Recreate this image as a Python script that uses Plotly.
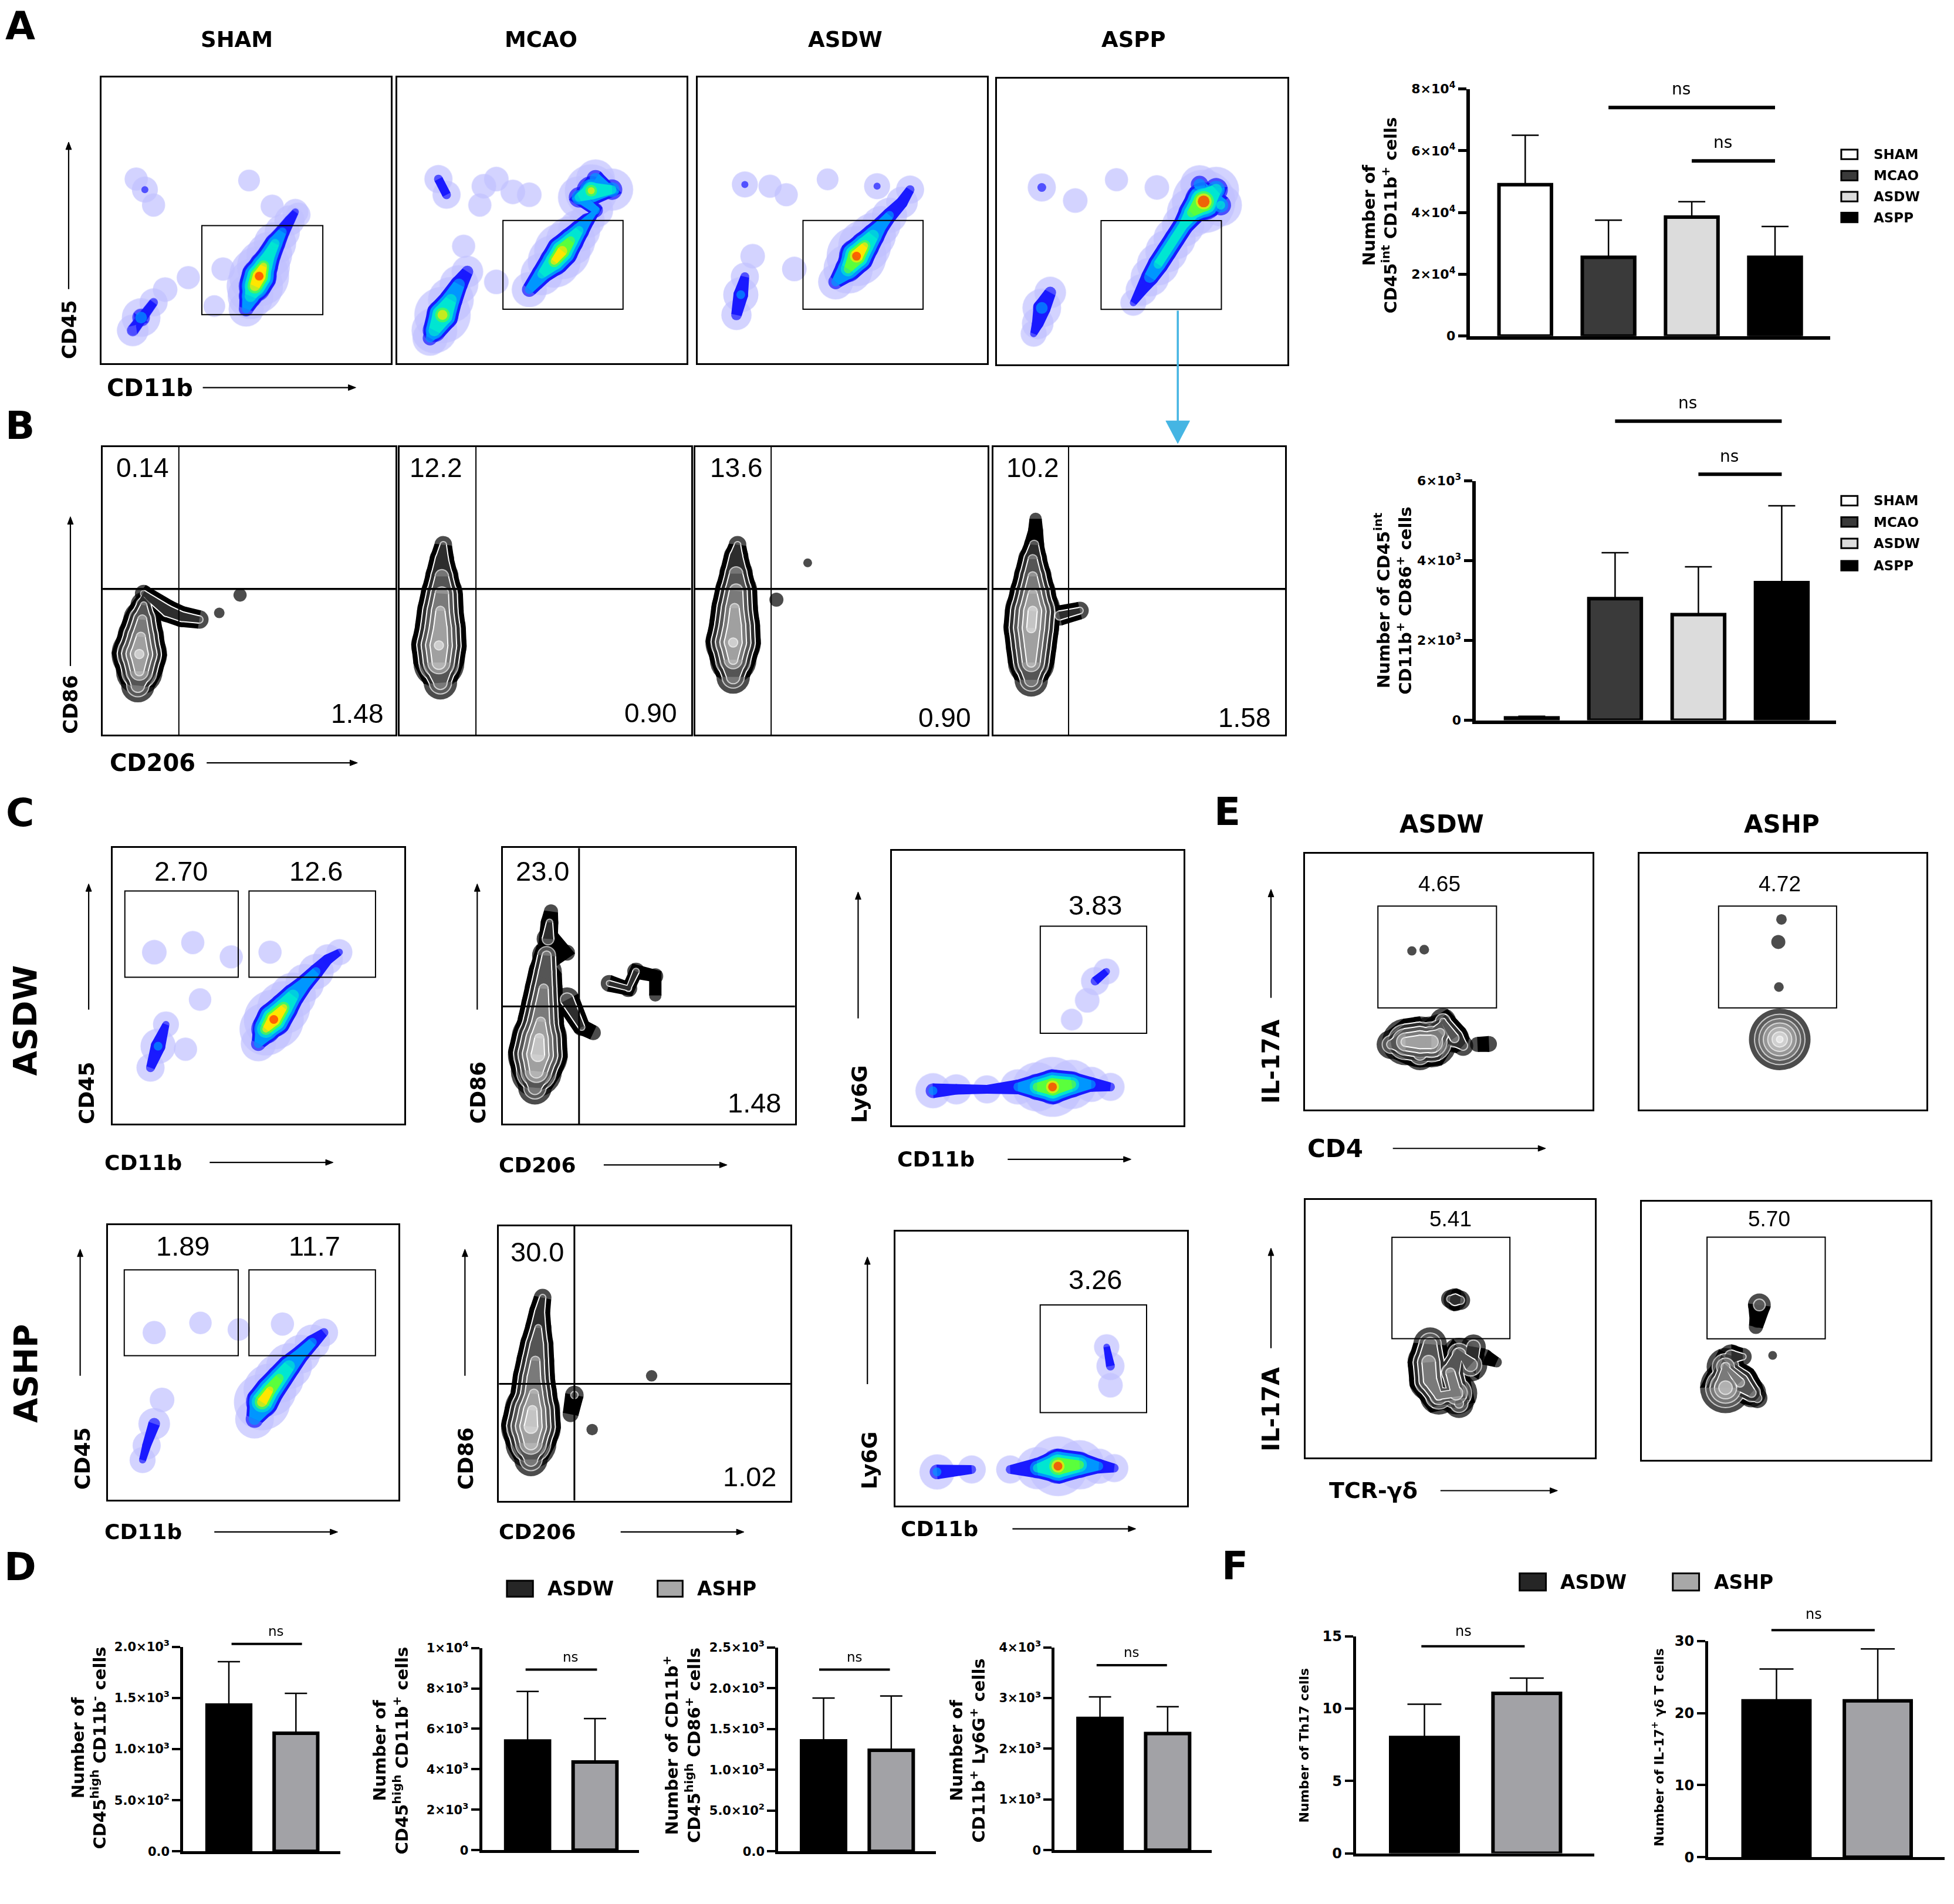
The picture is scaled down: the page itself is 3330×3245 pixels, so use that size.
import math
import plotly.graph_objects as go

FIG_W, FIG_H = 3330, 3245
REF_W, REF_H = 1560.0, 1520.0          # layout was measured on a 1560 x 1520 grid
K = FIG_W / REF_W

HEAVY = 'DejaVu Sans'
PLAIN = 'Liberation Sans'

# ---------------- bar chart data ----------------
ab_groups = ['SHAM', 'MCAO', 'ASDW', 'ASPP']
ab_colors = ['#ffffff', '#3a3a3a', '#dcdcdc', '#000000']
a_mean = [49000, 25500, 38500, 25500]
a_sem = [16000, 12000, 5000, 10000]
b_mean = [60, 3050, 2650, 3450]
b_sem = [40, 1150, 1200, 1930]

ds_groups = ['ASDW', 'ASHP']
ds_colors = ['#000000', '#a2a2a6']
d1_mean = [1430, 1155]
d1_sem = [425, 390]
d2_mean = [5400, 4360]
d2_sem = [2450, 2150]
d3_mean = [1355, 1240]
d3_sem = [525, 665]
d4_mean = [2600, 2300]
d4_sem = [425, 530]
f1_mean = [8.0, 11.05]
f1_sem = [2.3, 1.05]
f2_mean = [21.7, 21.7]
f2_sem = [4.4, 7.2]

a_ticks = [0, 20000, 40000, 60000, 80000]
a_ticktext = ['0', '2×10<sup>4</sup>', '4×10<sup>4</sup>', '6×10<sup>4</sup>', '8×10<sup>4</sup>']
b_ticks = [0, 2000, 4000, 6000]
b_ticktext = ['0', '2×10<sup>3</sup>', '4×10<sup>3</sup>', '6×10<sup>3</sup>']
d1_ticks = [0, 500, 1000, 1500, 2000]
d1_ticktext = ['0.0', '5.0×10<sup>2</sup>', '1.0×10<sup>3</sup>', '1.5×10<sup>3</sup>', '2.0×10<sup>3</sup>']
d2_ticks = [0, 2000, 4000, 6000, 8000, 10000]
d2_ticktext = ['0', '2×10<sup>3</sup>', '4×10<sup>3</sup>', '6×10<sup>3</sup>', '8×10<sup>3</sup>', '1×10<sup>4</sup>']
d3_ticks = [0, 500, 1000, 1500, 2000, 2500]
d3_ticktext = ['0.0', '5.0×10<sup>2</sup>', '1.0×10<sup>3</sup>', '1.5×10<sup>3</sup>', '2.0×10<sup>3</sup>', '2.5×10<sup>3</sup>']
d4_ticks = [0, 1000, 2000, 3000, 4000]
d4_ticktext = ['0', '1×10<sup>3</sup>', '2×10<sup>3</sup>', '3×10<sup>3</sup>', '4×10<sup>3</sup>']
f1_ticks = [0, 5, 10, 15]
f2_ticks = [0, 10, 20, 30]

# significance brackets: start, end (category index), height (data units)
a_ns = [(1, 3, 74000), (2, 3, 56700)]
b_ns = [(1, 3, 7500), (2, 3, 6170)]
d1_ns = [(0.04, 1.09, 2028)]
d2_ns = [(-0.03, 1.03, 8930)]
d3_ns = [(-0.065, 0.98, 2228)]
d4_ns = [(-0.05, 0.99, 3650)]
f1_ns = [(-0.03, 0.98, 14.3)]
f2_ns = [(-0.05, 0.97, 31.5)]

# ---------------- flow cytometry data (fractions of each plot, density level) ----------------
# A: CD45 vs CD11b pseudo-colour plots
a_sham_x = [0.50, 0.515, 0.53, 0.545, 0.56, 0.58, 0.60, 0.625, 0.65, 0.67, 0.137, 0.108, 0.18, 0.22, 0.30,
            0.15, 0.12, 0.18, 0.51, 0.59, 0.68, 0.42, 0.39]
a_sham_y = [0.19, 0.235, 0.27, 0.305, 0.34, 0.38, 0.42, 0.46, 0.50, 0.53, 0.16, 0.115, 0.213, 0.258, 0.30,
            0.608, 0.645, 0.554, 0.64, 0.55, 0.52, 0.33, 0.20]
a_sham_d = [2.5, 4, 5.5, 6, 5, 4, 3.5, 2.5, 1.8, 1.2, 3, 2, 1.5, 1, 0.8,
            1.2, 0.8, 0.8, 0.6, 0.8, 1, 0.8, 0.6]

a_mcao_x = [0.114, 0.129, 0.157, 0.186, 0.214, 0.243, 0.457, 0.50, 0.543, 0.571, 0.60, 0.629, 0.657, 0.686,
            0.629, 0.671, 0.743, 0.686, 0.143, 0.171, 0.343, 0.457, 0.286, 0.343, 0.23, 0.30, 0.40]
a_mcao_y = [0.088, 0.115, 0.169, 0.222, 0.276, 0.321, 0.258, 0.312, 0.357, 0.393, 0.429, 0.465, 0.50, 0.536,
            0.581, 0.604, 0.608, 0.646, 0.645, 0.59, 0.645, 0.59, 0.554, 0.285, 0.41, 0.62, 0.60]
a_mcao_d = [2.5, 4, 5.5, 4, 3, 2, 2.5, 3.5, 5, 5.5, 4.5, 3.5, 2.5, 2.5,
            3.5, 5, 3.5, 3, 1.5, 1.5, 1, 1, 0.8, 1, 0.8, 1, 1]

a_asdw_x = [0.477, 0.52, 0.549, 0.577, 0.606, 0.634, 0.663, 0.706, 0.734, 0.134, 0.149, 0.163, 0.19,
            0.163, 0.306, 0.449, 0.334, 0.62, 0.25]
a_asdw_y = [0.285, 0.33, 0.375, 0.411, 0.447, 0.483, 0.518, 0.563, 0.608, 0.169, 0.24, 0.303, 0.375,
            0.626, 0.59, 0.644, 0.33, 0.62, 0.62]
a_asdw_d = [2.5, 4.5, 6, 5, 4, 3, 2.5, 2, 1.5, 1.8, 2.5, 1.5, 1,
            1.2, 0.8, 0.6, 1, 1.2, 0.8]

a_aspp_x = [0.469, 0.497, 0.526, 0.554, 0.583, 0.611, 0.64, 0.669, 0.711, 0.754, 0.697, 0.77,
            0.126, 0.14, 0.154, 0.183, 0.154, 0.269, 0.411, 0.55]
a_aspp_y = [0.216, 0.261, 0.306, 0.351, 0.396, 0.441, 0.486, 0.531, 0.571, 0.612, 0.63, 0.558,
            0.108, 0.144, 0.198, 0.252, 0.62, 0.574, 0.647, 0.62]
a_aspp_d = [1.2, 2, 3, 3.5, 3.5, 3.5, 3.5, 4.5, 6.5, 4, 3, 3.5,
            1.2, 2, 3, 2, 1.5, 1, 0.8, 1]

# B: CD86 vs CD206 zebra plots
b1_x = [0.398, 0.12, 0.125, 0.125, 0.13, 0.135, 0.14, 0.14, 0.22, 0.27, 0.33, 0.469]
b1_y = [0.423, 0.17, 0.22, 0.28, 0.34, 0.40, 0.45, 0.49, 0.43, 0.41, 0.40, 0.485]
b1_d = [0.4, 3, 4.5, 5.5, 4.5, 3.5, 2.2, 1.2, 1.8, 1.6, 1.3, 0.7]
b2_x = [0.14, 0.135, 0.135, 0.14, 0.14, 0.145, 0.145, 0.145, 0.15]
b2_y = [0.18, 0.25, 0.31, 0.37, 0.43, 0.49, 0.55, 0.61, 0.66]
b2_d = [3, 5, 5.5, 5, 4.5, 4, 3, 2, 1.2]
b3_x = [0.13, 0.13, 0.13, 0.135, 0.135, 0.14, 0.14, 0.14, 0.145, 0.278, 0.385]
b3_y = [0.2, 0.26, 0.32, 0.38, 0.44, 0.5, 0.56, 0.62, 0.66, 0.469, 0.597]
b3_d = [3, 4.5, 5.5, 5, 4.5, 4, 3, 2, 1.2, 0.8, 0.2]
b4_x = [0.13, 0.13, 0.13, 0.13, 0.135, 0.135, 0.135, 0.135, 0.14, 0.145, 0.145, 0.227, 0.297]
b4_y = [0.19, 0.25, 0.31, 0.37, 0.43, 0.49, 0.55, 0.61, 0.66, 0.71, 0.75, 0.414, 0.431]
b4_d = [3, 4.5, 5, 5.5, 5.5, 4.5, 3.5, 2.5, 1.5, 0.9, 0.6, 1.5, 1.2]
b_upper = ['0.14', '12.2', '13.6', '10.2']
b_lower = ['1.48', '0.90', '0.90', '1.58']

# C: ASDW row (c1 CD45/CD11b, c2 CD86/CD206, c3 Ly6G/CD11b) and ASHP row (c4, c5, c6)
c1_x = [0.50, 0.526, 0.553, 0.587, 0.619, 0.659, 0.698, 0.738, 0.778, 0.13, 0.156, 0.183, 0.25,
        0.143, 0.275, 0.407, 0.54, 0.30]
c1_y = [0.29, 0.343, 0.378, 0.421, 0.465, 0.509, 0.552, 0.596, 0.622, 0.203, 0.281, 0.36, 0.27,
        0.622, 0.657, 0.605, 0.622, 0.45]
c1_d = [2.5, 5, 6, 5, 4, 3, 2.5, 1.8, 1.2, 1.5, 2.5, 1.2, 0.8, 1, 0.8, 0.8, 0.8, 0.7]
c2_x = [0.11, 0.115, 0.12, 0.125, 0.13, 0.135, 0.14, 0.145, 0.15, 0.22, 0.155, 0.16, 0.165,
        0.22, 0.27, 0.31, 0.364, 0.43, 0.456, 0.522, 0.522]
c2_y = [0.13, 0.19, 0.25, 0.31, 0.37, 0.43, 0.49, 0.55, 0.61, 0.62, 0.67, 0.73, 0.77,
        0.45, 0.35, 0.33, 0.509, 0.491, 0.552, 0.535, 0.465]
c2_d = [3, 5, 6, 5.5, 4.5, 4, 3.5, 3, 2.5, 1, 1.8, 1.2, 0.8, 2, 1.2, 0.9, 1.1, 1.2, 1.2, 1.0, 0.6]
c3_x = [0.14, 0.22, 0.325, 0.431, 0.497, 0.55, 0.616, 0.683, 0.749, 0.616, 0.669, 0.696, 0.735]
c3_y = [0.126, 0.131, 0.131, 0.14, 0.14, 0.14, 0.149, 0.149, 0.14, 0.385, 0.455, 0.525, 0.56]
c3_d = [2.5, 1.8, 1.5, 2.5, 4.5, 6, 4.5, 2.5, 1.5, 0.6, 1, 1.5, 1.2]
c4_x = [0.504, 0.53, 0.557, 0.589, 0.623, 0.663, 0.703, 0.743, 0.119, 0.133, 0.159, 0.186,
        0.159, 0.318, 0.45, 0.60]
c4_y = [0.294, 0.356, 0.40, 0.443, 0.487, 0.531, 0.574, 0.609, 0.145, 0.198, 0.277, 0.364,
        0.609, 0.644, 0.62, 0.64]
c4_d = [3, 5.5, 5, 4.5, 4, 3, 2.5, 1.5, 1.2, 1.5, 2, 1, 0.8, 0.7, 0.7, 0.8]
c5_x = [0.11, 0.11, 0.11, 0.115, 0.12, 0.12, 0.125, 0.13, 0.135, 0.14, 0.15, 0.259, 0.246, 0.524, 0.32]
c5_y = [0.15, 0.21, 0.27, 0.33, 0.39, 0.45, 0.51, 0.57, 0.63, 0.69, 0.74, 0.385, 0.315, 0.455, 0.259]
c5_d = [3, 5, 6, 5.5, 4.5, 4, 3.5, 3, 2.2, 1.6, 1.2, 1.3, 1.0, 0.5, 0.5]
c6_x = [0.143, 0.262, 0.394, 0.487, 0.558, 0.632, 0.698, 0.751, 0.738, 0.738, 0.725]
c6_y = [0.123, 0.132, 0.132, 0.137, 0.144, 0.149, 0.144, 0.137, 0.439, 0.509, 0.579]
c6_d = [2.5, 1.5, 1.5, 3.5, 6, 4.5, 2.5, 1.5, 1.0, 1.5, 1.1]

# E: IL-17A vs CD4 (e1, e2) and IL-17A vs TCR-gd (e3, e4)
e1_x = [0.372, 0.30, 0.35, 0.40, 0.44, 0.47, 0.48, 0.52, 0.55, 0.40, 0.60, 0.64, 0.415]
e1_y = [0.62, 0.255, 0.265, 0.265, 0.265, 0.30, 0.345, 0.28, 0.25, 0.22, 0.255, 0.257, 0.625]
e1_d = [0.25, 2.5, 4.5, 5, 5, 3.5, 2.2, 2.5, 1.5, 3, 0.9, 1.0, 0.3]
e2_x = [0.484, 0.489, 0.495, 0.486]
e2_y = [0.655, 0.275, 0.743, 0.479]
e2_d = [0.8, 6.2, 0.4, 0.3]
e3_x = [0.43, 0.425, 0.43, 0.46, 0.52, 0.50, 0.53, 0.57, 0.58, 0.53, 0.62, 0.66, 0.50, 0.516, 0.535]
e3_y = [0.44, 0.37, 0.30, 0.24, 0.25, 0.33, 0.40, 0.36, 0.43, 0.21, 0.39, 0.37, 0.615, 0.612, 0.61]
e3_d = [3, 4, 4, 3.5, 4, 3.5, 3, 3, 2, 2.5, 1, 0.4, 1.3, 1.8, 1.4]
e4_x = [0.453, 0.29, 0.29, 0.34, 0.38, 0.40, 0.31, 0.35, 0.407, 0.40, 0.395]
e4_y = [0.405, 0.28, 0.36, 0.30, 0.26, 0.24, 0.40, 0.40, 0.60, 0.542, 0.515]
e4_d = [0.2, 5, 3.5, 3.5, 2.5, 1.5, 2, 1.2, 1.8, 1.0, 0.8]
e_gate_labels = ['4.65', '4.72', '5.41', '5.70']

# ---------------- helpers ----------------
traces = []
shapes = []
annotations = []
axes_layout = {}
n_axes = [0]


def px(x):
    return x / REF_W


def py(y):
    return 1 - y / REF_H


def new_axes(x0, x1, y0, y1, xr, yr):
    n_axes[0] += 1
    s = '' if n_axes[0] == 1 else str(n_axes[0])
    xd = [px(x0), px(x1)]
    yd = [py(y1), py(y0)]
    axes_layout['xaxis' + s] = dict(domain=xd, range=xr, anchor='y' + s, showgrid=False,
                                    zeroline=False, fixedrange=True, automargin=False)
    axes_layout['yaxis' + s] = dict(domain=yd, range=yr, anchor='x' + s, showgrid=False,
                                    zeroline=False, fixedrange=True, automargin=False)
    return s, xd, yd


def flow_axes(x0, x1, y0, y1):
    s, xd, yd = new_axes(x0, x1, y0, y1, [0, 1], [0, 1])
    for key in ('xaxis' + s, 'yaxis' + s):
        axes_layout[key].update(showline=True, mirror=True, linecolor='black', linewidth=2.5,
                                showticklabels=False, ticks='')
    # axis handles plus the plot size in screen pixels
    return ('x' + s, 'y' + s, (x1 - x0) * K, (y1 - y0) * K)


# pseudo-colour levels: threshold on density, colour
JET_T = [1.0, 2.0, 3.0, 4.0, 4.8, 5.5]
JET_C = ['#1a1aff', '#0096ff', '#00e6d2', '#5aff3c', '#ffe600', '#ff2a00']
GREYS = ['#000000', '#2e2e2e', '#555555', '#7a7a7a', '#a0a0a0', '#c4c4c4', '#e0e0e0']
LINK_PX = 60


def runs_above(ax, xs, ys, ds, t):
    # consecutive readings above a level that lie close together form one band
    bw, bh = ax[2], ax[3]
    runs, cur = [], []
    for i, d in enumerate(ds):
        if d > t:
            if cur and math.hypot((xs[i] - xs[cur[-1]]) * bw, (ys[i] - ys[cur[-1]]) * bh) <= LINK_PX:
                cur.append(i)
            else:
                if cur:
                    runs.append(cur)
                cur = [i]
        elif cur:
            runs.append(cur)
            cur = []
    if cur:
        runs.append(cur)
    return runs


def band_outline(ax, xs, ys, radius, run):
    bw, bh = ax[2], ax[3]
    pts = [(xs[i] * bw, ys[i] * bh) for i in run]
    left, right = [], []
    n = len(pts)
    for j in range(n):
        a, b = pts[max(j - 1, 0)], pts[min(j + 1, n - 1)]
        tx, ty = b[0] - a[0], b[1] - a[1]
        ln = math.hypot(tx, ty) or 1.0
        nx, ny = -ty / ln, tx / ln
        r = radius[run[j]]
        left.append((pts[j][0] + nx * r, pts[j][1] + ny * r))
        right.append((pts[j][0] - nx * r, pts[j][1] - ny * r))
    poly = left + right[::-1] + [left[0]]
    return [p[0] / bw for p in poly], [p[1] / bh for p in poly]


def level(ax, xs, ys, ds, t, size_of, color, opacity=1.0, banded=True):
    idx = [i for i, d in enumerate(ds) if d > t]
    if not idx:
        return False
    sizes = {i: size_of(ds[i]) for i in idx}
    if banded:
        bx, by = [], []
        for run in runs_above(ax, xs, ys, ds, t):
            if len(run) < 2:
                continue
            ox, oy = band_outline(ax, xs, ys, {i: sizes[i] / 2 for i in run}, run)
            bx += ox + [None]
            by += oy + [None]
        if bx:
            traces.append(go.Scatter(x=bx, y=by, xaxis=ax[0], yaxis=ax[1], mode='lines',
                                     fill='toself', fillcolor=color, line=dict(width=0, color=color),
                                     hoverinfo='skip', showlegend=False, opacity=opacity))
    traces.append(go.Scatter(
        x=[xs[i] for i in idx], y=[ys[i] for i in idx], xaxis=ax[0], yaxis=ax[1],
        mode='markers', hoverinfo='skip', showlegend=False, opacity=opacity,
        marker=dict(size=[sizes[i] for i in idx], color=color, line=dict(width=0))))
    return True


def pseudo_color(ax, xs, ys, ds):
    level(ax, xs, ys, ds, 0, lambda d: 12 * d + 30, '#2f2fff', 0.3, banded=False)
    for t, col in zip(JET_T, JET_C):
        if not level(ax, xs, ys, ds, t, lambda d, t=t: 10 * (d - t) + 10, col):
            break


def zebra(ax, xs, ys, ds, step=15):
    for k, col in enumerate(GREYS):
        pad = 12 if k == 0 else 6
        if k > 0:
            if not level(ax, xs, ys, ds, k, lambda d, k=k, pad=pad: step * (d - k) + pad + 4, '#ffffff'):
                break
        if not level(ax, xs, ys, ds, k, lambda d, k=k, pad=pad: step * (d - k) + pad, col):
            break


def gate(ax, x0, x1, y0, y1, width=2):
    shapes.append(dict(type='rect', xref=ax[0], yref=ax[1], x0=x0, x1=x1, y0=y0, y1=y1,
                       line=dict(color='black', width=width)))


def quad(ax, vx, hy, wv=2, wh=3.5):
    shapes.append(dict(type='line', xref=ax[0], yref=ax[1], x0=vx, x1=vx, y0=0, y1=1,
                       line=dict(color='black', width=wv)))
    shapes.append(dict(type='line', xref=ax[0], yref=ax[1], x0=0, x1=1, y0=hy, y1=hy,
                       line=dict(color='black', width=wh)))


def flow_text(ax, x, y, s, size, xanchor='center'):
    annotations.append(dict(xref=ax[0], yref=ax[1], x=x, y=y, text=s, showarrow=False,
                            xanchor=xanchor, yanchor='middle',
                            font=dict(family=PLAIN, size=size, color='black')))


def label(x, y, s, size, family=HEAVY, bold=True, angle=0, xanchor='center'):
    annotations.append(dict(xref='paper', yref='paper', x=px(x), y=py(y), text=s,
                            showarrow=False, textangle=angle, xanchor=xanchor, yanchor='middle',
                            font=dict(family=family, size=size, color='black',
                                      weight='bold' if bold else 'normal')))


def arrow(x0, y0, x1, y1, color='black', width=2.2, head_len=6.0, head_w=4.6):
    # straight arrow drawn as a line plus a filled triangular head (reference units)
    length = math.hypot(x1 - x0, y1 - y0)
    ux, uy = (x1 - x0) / length, (y1 - y0) / length
    bx, by = x1 - ux * head_len, y1 - uy * head_len
    shapes.append(dict(type='line', xref='paper', yref='paper', x0=px(x0), y0=py(y0),
                       x1=px(bx), y1=py(by), line=dict(color=color, width=width)))
    c1 = (bx - uy * head_w / 2, by + ux * head_w / 2)
    c2 = (bx + uy * head_w / 2, by - ux * head_w / 2)
    path = 'M {} {} L {} {} L {} {} Z'.format(px(x1), py(y1), px(c1[0]), py(c1[1]),
                                              px(c2[0]), py(c2[1]))
    shapes.append(dict(type='path', xref='paper', yref='paper', path=path, fillcolor=color,
                       line=dict(color=color, width=1)))


def bar_panel(box, xr, yr, means, sems, colors, bar_w, cap, tickv, tickt, tick_size, axis_w=6,
              outline_w=6):
    s, xd, yd = new_axes(box[0], box[1], box[2], box[3], xr, yr)
    axes_layout['xaxis' + s].update(showline=True, linecolor='black', linewidth=axis_w,
                                    showticklabels=False, ticks='')
    axes_layout['yaxis' + s].update(showline=True, linecolor='black', linewidth=axis_w,
                                    ticks='outside', ticklen=14, tickwidth=axis_w - 1,
                                    tickcolor='black', tickvals=tickv, ticktext=tickt,
                                    tickfont=dict(family=HEAVY, size=tick_size, color='black',
                                                  weight='bold'))
    traces.append(go.Bar(
        x=list(range(len(means))), y=means, width=bar_w, xaxis='x' + s, yaxis='y' + s,
        marker=dict(color=colors, line=dict(color='black', width=outline_w)),
        error_y=dict(type='data', array=sems, arrayminus=[0] * len(sems), symmetric=False,
                     color='black', thickness=2.5, width=cap),
        hoverinfo='skip', showlegend=False))
    return xd, yd, xr, yr


def ns_brackets(panel, brackets, lift, size, lw):
    xd, yd, xr, yr = panel

    def fx(v):
        return xd[0] + (v - xr[0]) / (xr[1] - xr[0]) * (xd[1] - xd[0])

    def fy(v):
        return yd[0] + (v - yr[0]) / (yr[1] - yr[0]) * (yd[1] - yd[0])

    for x0, x1, yv in brackets:
        shapes.append(dict(type='line', xref='paper', yref='paper', x0=fx(x0), x1=fx(x1),
                           y0=fy(yv), y1=fy(yv), line=dict(color='black', width=lw)))
        annotations.append(dict(xref='paper', yref='paper', x=fx((x0 + x1) / 2), y=fy(yv),
                                yshift=lift, text='ns', showarrow=False, yanchor='middle',
                                font=dict(family=HEAVY, size=size, color='black')))


def swatch(x0, x1, yc, half, color):
    shapes.append(dict(type='rect', xref='paper', yref='paper', x0=px(x0), x1=px(x1),
                       y0=py(yc + half), y1=py(yc - half), fillcolor=color,
                       line=dict(color='black', width=3)))


# ---------------- panel letters ----------------
for ch, (lx, ly) in zip('ABCDEF', [(16, 21), (16, 340), (16, 649), (16, 1251), (980, 648), (986, 1250)]):
    label(lx, ly, ch, 66)

# ---------------- A: gating plots ----------------
a_boxes = [(81, 312, 62, 290), (317, 548, 62, 290), (557, 788, 62, 290), (796, 1028, 63, 291)]
a_data = [(a_sham_x, a_sham_y, a_sham_d), (a_mcao_x, a_mcao_y, a_mcao_d),
          (a_asdw_x, a_asdw_y, a_asdw_d), (a_aspp_x, a_aspp_y, a_aspp_d)]
a_gates = [(0.347, 0.765, 0.17, 0.482), (0.366, 0.781, 0.189, 0.50),
           (0.364, 0.779, 0.189, 0.50), (0.358, 0.772, 0.193, 0.504)]
for name, box, dat, g, tx in zip(ab_groups, a_boxes, a_data, a_gates, [189, 432, 675, 905]):
    ax = flow_axes(*box)
    pseudo_color(ax, *dat)
    gate(ax, *g)
    label(tx, 31.5, name, 37)
label(55.5, 263, 'CD45', 34, angle=-90)
arrow(54.8, 230.8, 54.8, 113.4)
label(119.6, 309.4, 'CD11b', 40)
arrow(161.9, 309.4, 284.1, 309.4)
arrow(940.3, 248, 940.3, 354, color='#45b5e3', width=3.5, head_len=18, head_w=19)

# ---------------- B: CD86 / CD206 ----------------
b_boxes = [(82, 315.8, 356.8, 586.4), (319, 551.7, 356.8, 586.4),
           (555, 788.3, 356.8, 586.4), (793, 1026, 356.8, 586.4)]
b_data = [(b1_x, b1_y, b1_d), (b2_x, b2_y, b2_d), (b3_x, b3_y, b3_d), (b4_x, b4_y, b4_d)]
b_vx = [0.26, 0.262, 0.26, 0.258]
b_ux = [0.136, 0.125, 0.142, 0.136]
b_ly = [0.073, 0.075, 0.059, 0.059]
b_lx = [0.963, 0.957, 0.949, 0.955]
for i, box in enumerate(b_boxes):
    ax = flow_axes(*box)
    zebra(ax, *b_data[i])
    quad(ax, b_vx[i], 0.506)
    flow_text(ax, b_ux[i], 0.929, b_upper[i], 46)
    flow_text(ax, b_lx[i], b_ly[i], b_lower[i], 46, xanchor='right')
label(56.2, 562, 'CD86', 34, angle=-90)
arrow(56.2, 531.7, 56.2, 412.5)
label(122, 609, 'CD206', 40)
arrow(165, 609, 285.4, 609)

# ---------------- C ----------------
label(20.3, 814.6, 'ASDW', 55, angle=-90)
label(20.3, 1096.4, 'ASHP', 55, angle=-90)

ax = flow_axes(89.9, 322.6, 677, 897)
pseudo_color(ax, c1_x, c1_y, c1_d)
gate(ax, 0.042, 0.431, 0.531, 0.844)
gate(ax, 0.468, 0.902, 0.531, 0.844)
flow_text(ax, 0.235, 0.916, '2.70', 47)
flow_text(ax, 0.698, 0.916, '12.6', 47)

ax = flow_axes(401.4, 634.7, 677, 897)
zebra(ax, c2_x, c2_y, c2_d)
quad(ax, 0.261, 0.425, 3, 3)
flow_text(ax, 0.135, 0.916, '23.0', 47)
flow_text(ax, 0.86, 0.075, '1.48', 47)

ax = flow_axes(712.3, 945, 679, 898.4)
pseudo_color(ax, c3_x, c3_y, c3_d)
gate(ax, 0.508, 0.873, 0.335, 0.725)
flow_text(ax, 0.696, 0.802, '3.83', 47)

ax = flow_axes(86.2, 318.3, 978, 1197.4)
pseudo_color(ax, c4_x, c4_y, c4_d)
gate(ax, 0.056, 0.448, 0.525, 0.837)
gate(ax, 0.485, 0.92, 0.525, 0.837)
flow_text(ax, 0.257, 0.925, '1.89', 47)
flow_text(ax, 0.711, 0.925, '11.7', 47)

ax = flow_axes(398.3, 631, 979, 1198)
zebra(ax, c5_x, c5_y, c5_d)
quad(ax, 0.259, 0.426, 3, 3)
flow_text(ax, 0.132, 0.907, '30.0', 47)
flow_text(ax, 0.86, 0.088, '1.02', 47)

ax = flow_axes(714.8, 947.5, 983, 1202)
pseudo_color(ax, c6_x, c6_y, c6_d)
gate(ax, 0.497, 0.862, 0.339, 0.732)
flow_text(ax, 0.685, 0.825, '3.26', 47)

for lx, ly, s in [(69, 872.5, 'CD45'), (381.6, 872.5, 'CD86'), (686.4, 873.5, 'Ly6G'),
                  (65.9, 1164.6, 'CD45'), (371.8, 1164.6, 'CD86'), (693.8, 1165.5, 'Ly6G')]:
    label(lx, ly, s, 36, angle=-90)
for lx, ly, s in [(114.4, 928, 'CD11b'), (429, 930, 'CD206'), (747, 925.5, 'CD11b'),
                  (114.4, 1223, 'CD11b'), (429, 1223, 'CD206'), (750, 1220.5, 'CD11b')]:
    label(lx, ly, s, 36)
arrow(70.8, 806, 70.8, 705.6)
arrow(381, 806, 381, 705.6)
arrow(685.1, 813, 685.1, 712)
arrow(64, 1098.3, 64, 997.2)
arrow(371.2, 1098.3, 371.2, 997.2)
arrow(692.5, 1105, 692.5, 1003.4)
arrow(167.4, 928, 266, 928)
arrow(482, 930, 580.5, 930)
arrow(804.5, 925.5, 903, 925.5)
arrow(171.1, 1223, 269.6, 1223)
arrow(495.5, 1223, 594, 1223)
arrow(808.3, 1220.5, 906.8, 1220.5)

# ---------------- E ----------------
e_boxes = [(1041.7, 1271.5, 681.4, 886), (1308.8, 1538, 681.4, 886),
           (1042.5, 1273.3, 957.7, 1163.7), (1310.7, 1541.4, 959.2, 1165.6)]
e_data = [(e1_x, e1_y, e1_d), (e2_x, e2_y, e2_d), (e3_x, e3_y, e3_d), (e4_x, e4_y, e4_d)]
e_gates = [(0.254, 0.666, 0.398, 0.795), (0.276, 0.687, 0.398, 0.795),
           (0.298, 0.706, 0.461, 0.854), (0.226, 0.635, 0.469, 0.862)]
e_lab_pos = [(0.468, 0.881), (0.489, 0.881), (0.5, 0.925), (0.44, 0.933)]
for i, box in enumerate(e_boxes):
    ax = flow_axes(*box)
    zebra(ax, *e_data[i], step=15)
    gate(ax, *e_gates[i])
    flow_text(ax, e_lab_pos[i][0], e_lab_pos[i][1], e_gate_labels[i], 37)
label(1150.8, 657.7, 'ASDW', 42)
label(1422.7, 657.7, 'ASHP', 42)
label(1014.7, 847.4, 'IL-17A', 40, angle=-90)
arrow(1014.7, 796.6, 1014.7, 710)
label(1066, 916.8, 'CD4', 42)
arrow(1112, 916.8, 1234, 916.8)
label(1014.7, 1125, 'IL-17A', 40, angle=-90)
arrow(1014.7, 1076.3, 1014.7, 996.4)
label(1096.3, 1190, 'TCR-γδ', 38)
arrow(1150, 1190, 1243.5, 1190)

# ---------------- bar charts ----------------
pa = bar_panel((1173.4, 1461, 71, 268.3), [-0.666, 3.66], [0, 80000], a_mean, a_sem, ab_colors,
               0.63, 23, a_ticks, a_ticktext, 22)
ns_brackets(pa, a_ns, 32, 28, 6)
pb = bar_panel((1178, 1465.7, 384, 575), [-0.675, 3.65], [0, 6000], b_mean, b_sem, ab_colors,
               0.63, 23, b_ticks, b_ticktext, 22)
ns_brackets(pb, b_ns, 31, 28, 6)
label(1101.6, 171.8, 'Number of<br>CD45<sup>int</sup> CD11b<sup>+</sup> cells', 29, angle=-90)
label(1112.2, 479.5, 'Number of CD45<sup>int</sup><br>CD11b<sup>+</sup> CD86<sup>+</sup> cells', 29,
      angle=-90)
for yc_list in ([123.3, 140.2, 157, 173.6], [399.7, 416.7, 433.8, 451.6]):
    for yc, col, name in zip(yc_list, ab_colors, ab_groups):
        swatch(1470, 1483, yc, 3.8, col)
        label(1495, yc, name, 23, xanchor='left')

pd1 = bar_panel((146.3, 271.6, 1314.7, 1478), [-0.68, 1.66], [0, 2000], d1_mean, d1_sem, ds_colors,
                0.65, 19, d1_ticks, d1_ticktext, 21, axis_w=5)
ns_brackets(pd1, d1_ns, 22, 23, 4)
pd2 = bar_panel((384.9, 510, 1315.6, 1477), [-0.675, 1.65], [0, 10000], d2_mean, d2_sem, ds_colors,
                0.65, 19, d2_ticks, d2_ticktext, 21, axis_w=5)
ns_brackets(pd2, d2_ns, 22, 23, 4)
pd3 = bar_panel((621.3, 747.2, 1315.2, 1478), [-0.67, 1.66], [0, 2500], d3_mean, d3_sem, ds_colors,
                0.65, 19, d3_ticks, d3_ticktext, 21, axis_w=5)
ns_brackets(pd3, d3_ns, 22, 23, 4)
pd4 = bar_panel((842, 967.3, 1315.2, 1477), [-0.67, 1.65], [0, 4000], d4_mean, d4_sem, ds_colors,
                0.65, 19, d4_ticks, d4_ticktext, 21, axis_w=5)
ns_brackets(pd4, d4_ns, 22, 23, 4)
label(71, 1395.4, 'Number of<br>CD45<sup>high</sup> CD11b<sup>-</sup> cells', 29, angle=-90)
label(312.2, 1397.3, 'Number of<br>CD45<sup>high</sup> CD11b<sup>+</sup> cells', 29, angle=-90)
label(544.4, 1393.5, 'Number of CD11b<sup>+</sup><br>CD45<sup>high</sup> CD86<sup>+</sup> cells', 29,
      angle=-90)
label(772.7, 1397.3, 'Number of<br>CD11b<sup>+</sup> Ly6G<sup>+</sup> cells', 29, angle=-90)
swatch(404.7, 425.5, 1268.3, 6.4, '#262626')
label(436, 1268.3, 'ASDW', 33, xanchor='left')
swatch(525, 545, 1268.3, 6.4, '#a8a8a8')
label(555.8, 1268.3, 'ASHP', 33, xanchor='left')

pf1 = bar_panel((1082.5, 1272.8, 1306.2, 1479.5), [-0.67, 1.66], [0, 15], f1_mean, f1_sem, ds_colors,
                0.66, 29, f1_ticks, [str(v) for v in f1_ticks], 24, axis_w=5)
ns_brackets(pf1, f1_ns, 26, 24, 4)
pf2 = bar_panel((1363.7, 1552.5, 1310, 1482.7), [-0.675, 1.66], [0, 30], f2_mean, f2_sem, ds_colors,
                0.66, 29, f2_ticks, [str(v) for v in f2_ticks], 24, axis_w=5)
ns_brackets(pf2, f2_ns, 27, 24, 4)
label(1041.2, 1393.5, 'Number of Th17 cells', 22, angle=-90)
label(1323.5, 1394.8, 'Number of IL-17<sup>+</sup> γδ T cells', 22, angle=-90)
swatch(1213.2, 1234.2, 1262.9, 6.8, '#262626')
label(1244.7, 1262.9, 'ASDW', 33, xanchor='left')
swatch(1335.5, 1356.5, 1262.9, 6.8, '#a8a8a8')
label(1367.5, 1262.9, 'ASHP', 33, xanchor='left')

fig = go.Figure(data=traces)
fig.update_layout(width=FIG_W, height=FIG_H, margin=dict(l=0, r=0, t=0, b=0),
                  paper_bgcolor='white', plot_bgcolor='white', showlegend=False,
                  shapes=shapes, annotations=annotations, **axes_layout)
fig.write_html('out.html', config={'displayModeBar': False},
               post_script="document.body.style.margin='0px';")
